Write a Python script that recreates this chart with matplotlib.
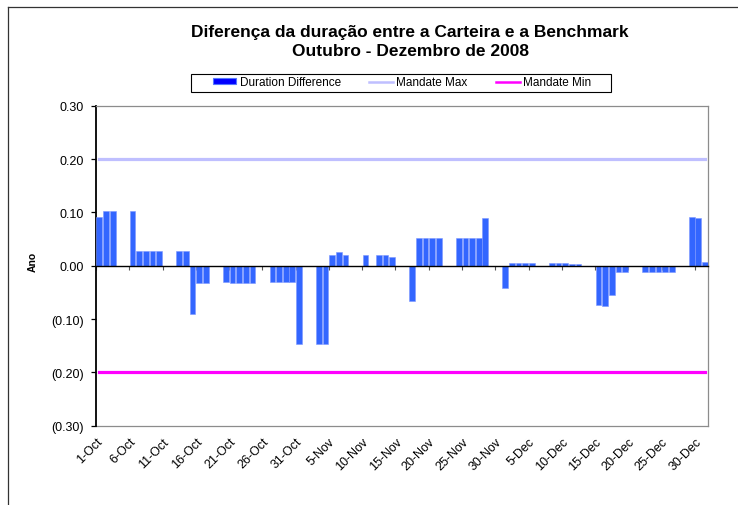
"""
Diferença da duração entre a Carteira e a Benchmark, Out-Dez 2008.
Daily bars of duration difference vs the mandate band (+/-0.20 anos).
"""
import numpy as np
import pandas as pd
import matplotlib
matplotlib.use("Agg")
import matplotlib.pyplot as plt
from matplotlib.lines import Line2D
from matplotlib.patches import Patch, Rectangle
from matplotlib.ticker import FuncFormatter

plt.rcParams["font.family"] = ["Liberation Sans", "DejaVu Sans"]

# ------------------------------------------------------------------ data
START, END = "2008-10-01", "2008-12-31"
# trading days (weekdays, no figure on 11-Nov)
trade_days = [d for d in pd.bdate_range(START, END) if d != pd.Timestamp("2008-11-11")]

oct_diff = [0.092, 0.103, 0.103,
            0.103, 0.027, 0.027, 0.027, 0.027,
            0.027, 0.027, -0.090, -0.032, -0.032,
            -0.030, -0.032, -0.032, -0.032, -0.032,
            -0.031, -0.031, -0.031, -0.031, -0.146]
nov_diff = [-0.146, -0.146, 0.021, 0.025, 0.021,
            0.021, 0.021, 0.021, 0.017,
            -0.066, 0.052, 0.052, 0.052, 0.052,
            0.052, 0.052, 0.052, 0.052, 0.089]
dec_diff = [-0.042, 0.005, 0.005, 0.005, 0.005,
            0.005, 0.005, 0.005, 0.003, 0.003,
            -0.074, -0.076, -0.055, -0.012, -0.012,
            -0.012, -0.012, -0.012, -0.012, -0.012,
            0.091, 0.089, 0.007]
duration_diff = oct_diff + nov_diff + dec_diff

MANDATE_MAX = 0.20
MANDATE_MIN = -0.20
y_ticks = [0.30, 0.20, 0.10, 0.00, -0.10, -0.20, -0.30]

BAR_BLUE, MAX_LAV, MIN_MAG = "#3366ff", "#bfbfff", "#ff00ff"
W, H = 738, 506

# ------------------------------------------------------------------ layout
all_days = pd.date_range(START, END)
day0 = all_days[0]
x_bar = np.array([(d - day0).days for d in trade_days]) + 0.5
x_all = np.arange(len(all_days)) + 0.5

fig = plt.figure(figsize=(W / 100, H / 100), dpi=100)
fig.patch.set_facecolor("white")
# outer chart frame (runs off the right / bottom edge)
fig.add_artist(Line2D([8 / W, 1.0], [1 - 8 / H, 1 - 8 / H], color="#333333", lw=0.9))
fig.add_artist(Line2D([8 / W, 8 / W], [0.0, 1 - 8 / H], color="#333333", lw=0.9))

L, R, T, B = 96, 708.3, 106.7, 426.7
ax = fig.add_axes([L / W, 1 - B / H, (R - L) / W, (B - T) / H])

ax.bar(x_bar, duration_diff, width=0.86, color=BAR_BLUE, edgecolor="#7d97ff",
       linewidth=0.4, zorder=3)
ax.plot(x_all, np.full(len(x_all), MANDATE_MAX), color=MAX_LAV, lw=2.3, zorder=2)
ax.plot(x_all, np.full(len(x_all), MANDATE_MIN), color=MIN_MAG, lw=2.3, zorder=2)

ax.set_xlim(0, len(all_days))
ax.set_ylim(-0.30, 0.30)

# y axis
ax.set_yticks(y_ticks)
ax.yaxis.set_major_formatter(FuncFormatter(
    lambda v, _: f"({abs(v):.2f})" if v < -1e-9 else f"{abs(v):.2f}"))
ax.tick_params(axis="y", direction="out", length=3.5, width=0.9, color="black",
               labelsize=9, pad=5)
ax.spines["left"].set_color("black")
ax.spines["left"].set_linewidth(1.3)
ax.set_ylabel("Ano", fontsize=7.5, fontweight="bold", labelpad=0)
ax.yaxis.set_label_coords((38 - L) / (R - L), (B - 262) / (B - T))

# category axis crosses at zero: ticks only
tick_pos = np.arange(0, len(all_days), 5)
tick_lab = [f"{all_days[i].day}-{all_days[i].strftime('%b')}" for i in tick_pos]
ax.spines["bottom"].set_position(("data", 0))
ax.spines["bottom"].set_color("black")
ax.spines["bottom"].set_linewidth(1.0)
ax.spines["bottom"].set_zorder(4)
ax.set_xticks(tick_pos)
ax.tick_params(axis="x", direction="out", length=3, width=0.8, color="#555555",
               labelbottom=False)
for s in ("top", "right"):
    ax.spines[s].set_color("#8c8c8c")
    ax.spines[s].set_linewidth(0.9)

# date labels sit at the bottom of the plot area
sec = ax.secondary_xaxis(0.0)
sec.set_xticks(tick_pos)
sec.set_xticklabels(tick_lab, rotation=45, ha="right", va="top",
                    rotation_mode="anchor", fontsize=9)
sec.tick_params(axis="x", length=0, pad=7)
sec.spines["bottom"].set_color("#8c8c8c")
sec.spines["bottom"].set_linewidth(0.9)

# title
fig.text(410 / W, 1 - 32 / H, "Diferença da duração entre a Carteira e a Benchmark",
         ha="center", va="center", fontsize=12.5, fontweight="bold")
fig.text(410 / W, 1 - 51 / H, "Outubro - Dezembro de 2008",
         ha="center", va="center", fontsize=12.5, fontweight="bold")

# legend (frame drawn separately to get the wide Excel box)
handles = [Patch(facecolor="#0000ff", edgecolor="#5577ff", lw=0.8),
           Line2D([], [], color=MAX_LAV, lw=1.8),
           Line2D([], [], color=MIN_MAG, lw=1.8)]
labels = ["Duration Difference", "Mandate Max", "Mandate Min"]
fig.legend(handles, labels, loc="center", bbox_to_anchor=(402 / W, 1 - 83.5 / H),
           ncol=3, fontsize=8.5, frameon=False, handlelength=2.0,
           handleheight=0.45, handletextpad=0.3, columnspacing=2.4,
           borderpad=0.0, borderaxespad=0)
fig.add_artist(Rectangle((191 / W, 1 - 92.5 / H), (611 - 191) / W, 17.5 / H,
                         transform=fig.transFigure, fill=False,
                         edgecolor="black", lw=0.8))

fig.savefig("out.png", dpi=100)
